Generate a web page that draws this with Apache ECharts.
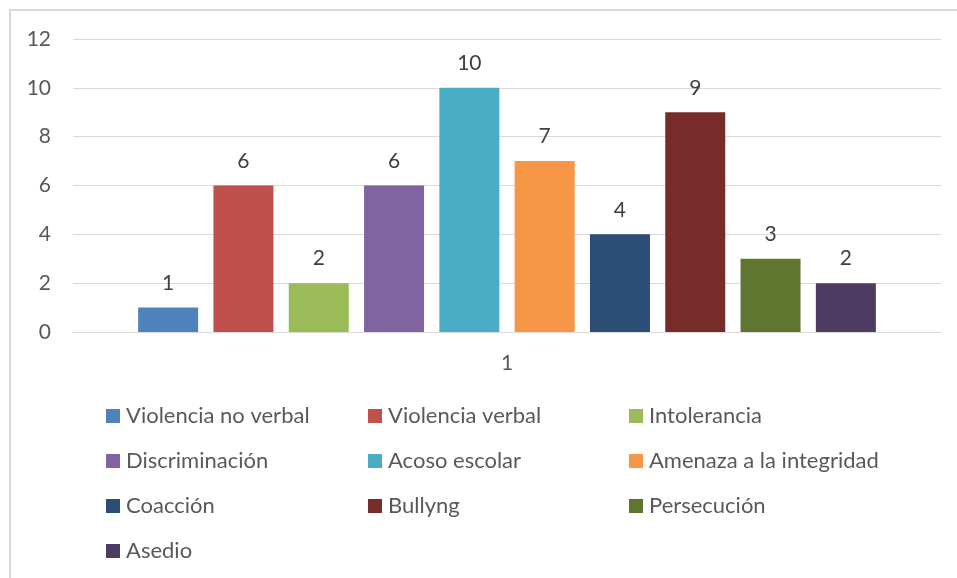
<!DOCTYPE html>
<html>
<head>
<meta charset="utf-8">
<script src="https://cdn.jsdelivr.net/npm/echarts@6/dist/echarts.min.js"></script>
<style>
  html, body { margin: 0; padding: 0; background: #fff; }
  #chart { width: 957px; height: 578px; }
</style>
</head>
<body>
<div id="chart"></div>
<script>
const categories = ["1"];
const seriesNames = [
  "Violencia no verbal", "Violencia verbal", "Intolerancia",
  "Discriminación", "Acoso escolar", "Amenaza a la integridad",
  "Coacción", "Bullyng", "Persecución", "Asedio"
];
const seriesValues = [1, 6, 2, 6, 10, 7, 4, 9, 3, 2];
const seriesColors = [
  "#4f81bd", "#c0504d", "#9bbb59", "#8064a2", "#4bacc6",
  "#f79646", "#2c4d75", "#772c2a", "#5f7530", "#4d3b62"
];
// legend columns (indices into seriesNames)
const legendColumns = [[0, 3, 6, 9], [1, 4, 7], [2, 5, 8]];
const legendLefts = [106, 368, 629];

const FONT = "Lato, 'Open Sans', sans-serif";
const TEXT = "#595959";

const chart = echarts.init(document.getElementById("chart"));

chart.setOption({
  animation: false,
  textStyle: { fontFamily: FONT },
  grid: { left: 73, right: 16, top: 39, bottom: 246 },
  graphic: [{
    type: "rect",
    shape: { x: 10, y: 10, width: 970, height: 600 },
    style: { fill: "none", stroke: "#d9d9d9", lineWidth: 2 },
    silent: true
  }],
  legend: legendColumns.map((col, i) => ({
    orient: "vertical",
    left: legendLefts[i],
    top: 404,
    padding: 0,
    itemWidth: 14,
    itemHeight: 14,
    itemGap: 21,
    icon: "rect",
    data: col.map((k) => seriesNames[k]),
    textStyle: {
      color: TEXT, fontSize: 22, lineHeight: 24, fontFamily: FONT,
      padding: [0, 0, 0, 1]
    }
  })),
  xAxis: {
    type: "category",
    data: categories,
    axisLine: { show: true, lineStyle: { color: "#d9d9d9", width: 1 } },
    axisTick: { show: false },
    axisLabel: { color: TEXT, fontSize: 21, margin: 21 }
  },
  yAxis: {
    type: "value",
    min: 0,
    max: 12,
    interval: 2,
    axisLine: { show: false },
    axisTick: { show: false },
    splitLine: { lineStyle: { color: "#d9d9d9", width: 1 } },
    axisLabel: { color: TEXT, fontSize: 21, margin: 22 }
  },
  series: seriesNames.map((name, i) => ({
    name,
    type: "bar",
    barWidth: 60,
    barGap: "25.5%",
    data: [seriesValues[i]],
    itemStyle: { color: seriesColors[i] },
    label: {
      show: true,
      position: "top",
      distance: 14,
      color: "#404040",
      fontSize: 21,
      fontFamily: FONT
    }
  }))
});
</script>
</body>
</html>
